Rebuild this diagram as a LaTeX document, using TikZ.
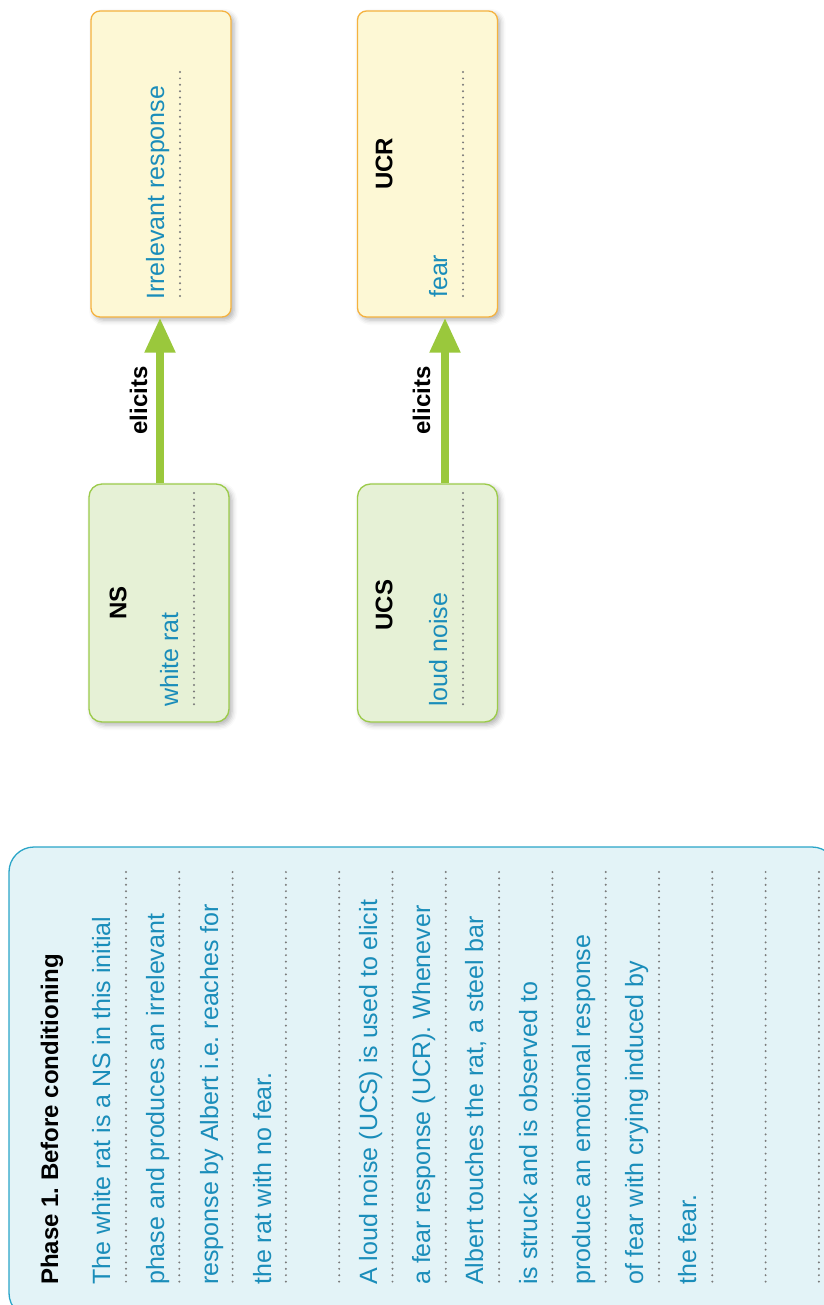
\documentclass[tikz,border=0pt]{standalone}
\usepackage{fontspec}
\setmainfont{Liberation Sans}
\usetikzlibrary{arrows.meta,shadows.blur}
\frenchspacing

\definecolor{txtblue}{HTML}{1A8DBA}
\definecolor{dotgray}{HTML}{7A7A7A}
\definecolor{yelfill}{HTML}{FDF8D5}
\definecolor{yeldraw}{HTML}{F5B23E}
\definecolor{grnfill}{HTML}{E6F1D6}
\definecolor{grndraw}{HTML}{9CCB4A}
\definecolor{arrgreen}{HTML}{9AC83C}
\definecolor{panfill}{HTML}{E3F3F7}
\definecolor{pandraw}{HTML}{2AA5C8}

\tikzset{
  bodyfont/.style={font=\fontsize{25}{30}\selectfont},
  boldfont/.style={font=\fontsize{24}{29}\selectfont\bfseries},
  bodytext/.style={bodyfont, rotate=90, anchor=base west, inner sep=0pt, text=txtblue},
  headtext/.style={boldfont, rotate=90, inner sep=0pt, text=black},
  dotline/.style={draw=dotgray, line width=2.2pt, line cap=round, dash pattern=on 0pt off 6.4pt},
  boxshadow/.style={blur shadow={shadow xshift=3pt, shadow yshift=-3pt, shadow blur radius=5pt, shadow opacity=30}},
  respbox/.style={draw=yeldraw, fill=yelfill, line width=1.3pt, rounded corners=9pt,
    minimum width=140pt, minimum height=306pt, inner sep=0pt, boxshadow},
  stimbox/.style={draw=grndraw, fill=grnfill, line width=1.3pt, rounded corners=13pt,
    minimum width=140pt, minimum height=238pt, inner sep=0pt, boxshadow},
  elicit/.style={draw=arrgreen, line width=8pt, -{Triangle[width=29pt,length=35pt]}},
}

\begin{document}
\begin{tikzpicture}[x=1pt,y=-1pt]
\useasboundingbox (0,0) rectangle (823,1305);

% ---- response boxes (top row) ----
\node[respbox] (irr) at (161,164) {};
\node[respbox] (ucr) at (427.5,164) {};
% ---- stimulus boxes ----
\node[stimbox] (ns)  at (159,603) {};
\node[stimbox] (ucs) at (427.5,603) {};

% box headings
\node[headtext] (nsh)  at (118,603) {NS};
\node[headtext] (ucsh) at (384,605) {UCS};
\node[headtext] (ucrh) at (384,164) {UCR};

% box answers on dotted lines
\draw[dotline] (180,72) -- (180,302);
\draw[dotline] (463,72) -- (463,302);
\draw[dotline] (194,493) -- (194,708);
\draw[dotline] (463,493) -- (463,708);
\node[bodytext] (irrt) at (164,300) {Irrelevant response};
\node[bodytext] (ucrt) at (447,298) {fear};
\node[bodytext] (nst)  at (178,707) {white rat};
\node[bodytext] (ucst) at (447,707) {loud noise};

% ---- elicits arrows ----
\draw[elicit] (ns.north -| 160,0) -- (irr.south -| 160,0)
  node[midway, xshift=-13pt, rotate=90, anchor=base, boldfont, inner sep=0pt] (el1) {elicits};
\draw[elicit] (ucs.north -| 445,0) -- (ucr.south -| 445,0)
  node[midway, xshift=-15pt, rotate=90, anchor=base, boldfont, inner sep=0pt] (el2) {elicits};

% ---- explanation panel ----
\node[draw=pandraw, fill=panfill, line width=1.3pt, rounded corners=25pt,
      minimum width=828pt, minimum height=471pt, inner sep=0pt] (panel) at (423,1082.5) {};

\foreach \i in {0,...,13}
  \draw[dotline] ({126+53.3*\i},872) -- ({126+53.3*\i},1284);

\node[boldfont, rotate=90, anchor=base west, inner sep=0pt] (title) at (58,1285) {Phase 1. Before conditioning};

\node[bodytext] (p1) at (110,1285) {The white rat is a NS in this initial};
\node[bodytext] (p2) at (164,1285) {phase and produces an irrelevant};
\node[bodytext] (p3) at (218,1285) {response by Albert i.e. reaches for};
\node[bodytext] (p4) at (271,1285) {the rat with no fear.};
\node[bodytext] (p6) at (377,1285) {A loud noise (UCS) is used to elicit};
\node[bodytext] (p7) at (430,1285) {a fear response (UCR). Whenever};
\node[bodytext] (p8) at (483,1285) {Albert touches the rat, a steel bar};
\node[bodytext] (p9) at (537,1285) {is struck and is observed to};
\node[bodytext] (p10) at (590,1285) {produce an emotional response};
\node[bodytext] (p11) at (643,1285) {of fear with crying induced by};
\node[bodytext] (p12) at (696,1285) {the fear.};
\end{tikzpicture}
\end{document}
